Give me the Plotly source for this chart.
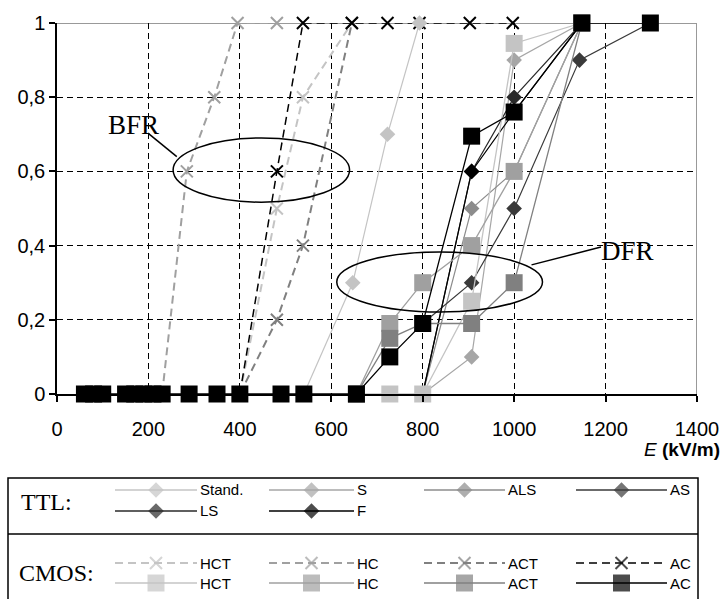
import plotly.graph_objects as go

# ---------------- data (E in kV/m, failure rate 0..1) ----------------
# TTL families (diamonds, solid lines)
ttl_stand_E = [540, 647, 723, 793]
ttl_stand_v = [0, 0.30, 0.70, 1.0]
ttl_s_E = [800, 907, 1000, 1148]
ttl_s_v = [0, 0.10, 0.90, 1.0]
ttl_als_E = [800, 907, 1000, 1148]
ttl_als_v = [0, 0.50, 0.60, 1.0]
ttl_as_E = [800, 907, 1000, 1143, 1298]
ttl_as_v = [0.19, 0.30, 0.50, 0.90, 1.0]
ttl_ls_E = [800, 907, 1000, 1148]
ttl_ls_v = [0, 0.60, 0.80, 1.0]
ttl_f_E = [800, 907, 1000, 1148]
ttl_f_v = [0, 0.60, 0.76, 1.0]

# CMOS, BFR (x markers, dashed lines)
bfr_hct_E = [400, 481, 538, 645]
bfr_hct_v = [0, 0.50, 0.80, 1.0]
bfr_hc_E = [230, 284, 344, 395, 481]
bfr_hc_v = [0, 0.60, 0.80, 1.0, 1.0]
bfr_act_E = [400, 481, 538, 645]
bfr_act_v = [0, 0.20, 0.40, 1.0]
bfr_ac_E = [400, 481, 538, 645, 723, 793, 903, 997]
bfr_ac_v = [0, 0.60, 1.0, 1.0, 1.0, 1.0, 1.0, 1.0]

# CMOS, DFR (squares, solid lines)
dfr_hct_E = [655, 728, 800, 907, 1000, 1148]
dfr_hct_v = [0, 0, 0, 0.25, 0.945, 1.0]
dfr_hc_E = [655, 728, 800, 907, 1000, 1148]
dfr_hc_v = [0, 0.19, 0.30, 0.40, 0.60, 1.0]
dfr_act_E = [655, 728, 800, 907, 1000, 1148]
dfr_act_v = [0, 0.15, 0.19, 0.19, 0.30, 1.0]
dfr_ac_E = [60, 80, 100, 150, 170, 190, 210, 230, 289, 350, 400, 490, 540,
            655, 728, 800, 907, 1000, 1148, 1298]
dfr_ac_v = [0, 0, 0, 0, 0, 0, 0, 0, 0, 0, 0, 0, 0,
            0, 0.10, 0.19, 0.695, 0.76, 1.0, 1.0]

x_ticks = [0, 200, 400, 600, 800, 1000, 1200, 1400]
y_ticks = [0, 0.2, 0.4, 0.6, 0.8, 1]
y_tick_text = ["0", "0,2", "0,4", "0,6", "0,8", "1"]

ttl_names = ["Stand.", "S", "ALS", "AS", "LS", "F"]
cmos_names = ["HCT", "HC", "ACT", "AC"]

# ---------------- styles ----------------
ttl_colors = ["#c4c4c4", "#a6a6a6", "#8c8c8c", "#3a3a3a", "#2a2a2a", "#000000"]
cmos_colors = ["#c4c4c4", "#a0a0a0", "#808080", "#000000"]
DASH = "8px,5px"

fig = go.Figure()

# BFR dashed curves
bfr = [(bfr_hct_E, bfr_hct_v), (bfr_hc_E, bfr_hc_v), (bfr_act_E, bfr_act_v), (bfr_ac_E, bfr_ac_v)]
for (E, v), col in zip(bfr, cmos_colors):
    fig.add_trace(go.Scatter(x=E, y=v, mode="lines+markers", showlegend=False, cliponaxis=False,
                             line=dict(color=col, width=2 if col != "#000000" else 1.5, dash=DASH),
                             marker=dict(symbol="x-thin", size=12,
                                         line=dict(color=col, width=2))))

# TTL curves
ttl = [(ttl_stand_E, ttl_stand_v), (ttl_s_E, ttl_s_v), (ttl_als_E, ttl_als_v),
       (ttl_as_E, ttl_as_v), (ttl_ls_E, ttl_ls_v), (ttl_f_E, ttl_f_v)]
for (E, v), col in zip(ttl, ttl_colors):
    fig.add_trace(go.Scatter(x=E, y=v, mode="lines+markers", showlegend=False, cliponaxis=False,
                             line=dict(color=col, width=1.2),
                             marker=dict(symbol="diamond", size=12, color=col)))

# DFR square curves
dfr = [(dfr_hct_E, dfr_hct_v), (dfr_hc_E, dfr_hc_v), (dfr_act_E, dfr_act_v), (dfr_ac_E, dfr_ac_v)]
for (E, v), col in zip(dfr, cmos_colors):
    fig.add_trace(go.Scatter(x=E, y=v, mode="lines+markers", showlegend=False, cliponaxis=False,
                             line=dict(color=col, width=1.3),
                             marker=dict(symbol="square", size=17, color=col)))

# ---------------- legend (drawn on an auxiliary pixel-scaled axis) ----------------
col_x0 = [115, 269, 424, 576]
col_x1 = [197, 354, 505, 667]
ttl_rows = [490, 511]
cmos_rows = [563, 583]
LEGEND_FONT = dict(family="Liberation Sans, Arial", size=15, color="black")

def legend_item(x0, x1, y, color, dash, symbol, msize, label, lwidth=1.3):
    xm = (x0 + x1) / 2
    fig.add_trace(go.Scatter(x=[x0, xm, x1], y=[y, y, y], xaxis="x2", yaxis="y2",
                             mode="lines+markers", showlegend=False, hoverinfo="skip",
                             cliponaxis=False,
                             line=dict(color=color, width=lwidth, dash=dash),
                             marker=dict(symbol=symbol, size=[0, msize, 0], color=color,
                                         line=dict(color=color, width=2 if symbol == "x-thin" else 0))))
    fig.add_annotation(x=x1 + 1, y=y, xref="x2", yref="y2", text=label, showarrow=False,
                       xanchor="left", yanchor="middle", font=LEGEND_FONT)

for i, (name, col) in enumerate(zip(ttl_names, ttl_colors)):
    r, c = divmod(i, 4)
    legend_item(col_x0[c], col_x1[c], ttl_rows[r], col, "solid", "diamond", 12, name)
for i, (name, col) in enumerate(zip(cmos_names, cmos_colors)):
    legend_item(col_x0[i], col_x1[i], cmos_rows[0], col, DASH, "x-thin", 12, name,
                lwidth=2 if col != "#000000" else 1.5)
    legend_item(col_x0[i], col_x1[i], cmos_rows[1], col, "solid", "square", 17, name)

SERIF_L = dict(family="Liberation Serif, Times New Roman", size=24, color="black")
SERIF_A = dict(family="Liberation Serif, Times New Roman", size=27, color="black")
fig.add_annotation(x=19, y=502, xref="x2", yref="y2", text="TTL:", showarrow=False,
                   xanchor="left", yanchor="middle", font=SERIF_L)
fig.add_annotation(x=17, y=573, xref="x2", yref="y2", text="CMOS:", showarrow=False,
                   xanchor="left", yanchor="middle", font=SERIF_L)

shapes = [
    # legend box and divider
    dict(type="rect", xref="x2", yref="y2", x0=8, x1=698, y0=478, y1=640,
         line=dict(color="black", width=1.5)),
    dict(type="line", xref="x2", yref="y2", x0=8, x1=698, y0=534, y1=534,
         line=dict(color="black", width=1.5)),
    # grey top/right frame of the plot area
    dict(type="line", xref="x domain", yref="y", x0=0, x1=1, y0=1, y1=1,
         line=dict(color="#999999", width=2), layer="below"),
    dict(type="line", xref="x", yref="y domain", x0=1400, x1=1400, y0=0, y1=1,
         line=dict(color="#999999", width=2), layer="below"),
    # BFR / DFR ellipses and leaders
    dict(type="circle", xref="x", yref="y", x0=254, x1=640, y0=0.517, y1=0.69,
         line=dict(color="black", width=1.5), layer="above"),
    dict(type="line", xref="x", yref="y", x0=199, x1=262, y0=0.703, y1=0.64,
         line=dict(color="black", width=1.5), layer="above"),
    dict(type="circle", xref="x", yref="y", x0=612, x1=1062, y0=0.221, y1=0.383,
         line=dict(color="black", width=1.5), layer="above"),
    dict(type="line", xref="x", yref="y", x0=1038, x1=1190, y0=0.348, y1=0.396,
         line=dict(color="black", width=1.5), layer="above"),
]

fig.add_annotation(x=168, y=0.725, text="BFR", showarrow=False, font=SERIF_A,
                   xanchor="center", yanchor="middle")
fig.add_annotation(x=1247, y=0.385, text="DFR", showarrow=False, font=SERIF_A,
                   xanchor="center", yanchor="middle")
fig.add_annotation(x=722, y=450, xref="x2", yref="y2", showarrow=False,
                   text="<i>E</i> <b>(kV/m)</b>", xanchor="right", yanchor="middle",
                   font=dict(family="Liberation Sans, Arial", size=19, color="black"))

AX_FONT = dict(family="Liberation Sans, Arial", size=20, color="black")
fig.update_layout(
    width=726, height=599,
    margin=dict(l=0, r=0, t=0, b=0),
    paper_bgcolor="white", plot_bgcolor="white",
    showlegend=False,
    shapes=shapes,
    xaxis=dict(domain=[57 / 726, 697 / 726], range=[0, 1400], tickvals=x_ticks,
               showline=True, linecolor="black", linewidth=1.5, automargin=False,
               ticks="outside", ticklen=6, tickcolor="black", tickwidth=1.5,
               ticklabelstandoff=10,
               showgrid=True, gridcolor="black", gridwidth=1, griddash="6px,4px",
               zeroline=False, tickfont=AX_FONT, anchor="y", fixedrange=True),
    yaxis=dict(domain=[1 - 394 / 599, 1 - 23 / 599], range=[0, 1], tickvals=y_ticks,
               ticktext=y_tick_text, automargin=False,
               showline=True, linecolor="black", linewidth=1.5,
               ticks="outside", ticklen=6, tickcolor="black", tickwidth=1.5,
               showgrid=True, gridcolor="black", gridwidth=1, griddash="6px,4px",
               zeroline=False, tickfont=AX_FONT, anchor="x", fixedrange=True),
    xaxis2=dict(domain=[0, 1], range=[0, 726], visible=False, anchor="y2", fixedrange=True,
                automargin=False),
    yaxis2=dict(domain=[0, 1 - 440 / 599], range=[599, 440], visible=False, anchor="x2",
                fixedrange=True, automargin=False),
)

fig.write_html("out.html", config={"displayModeBar": False},
               post_script="document.body.style.margin='0';document.body.style.overflow='hidden';")
